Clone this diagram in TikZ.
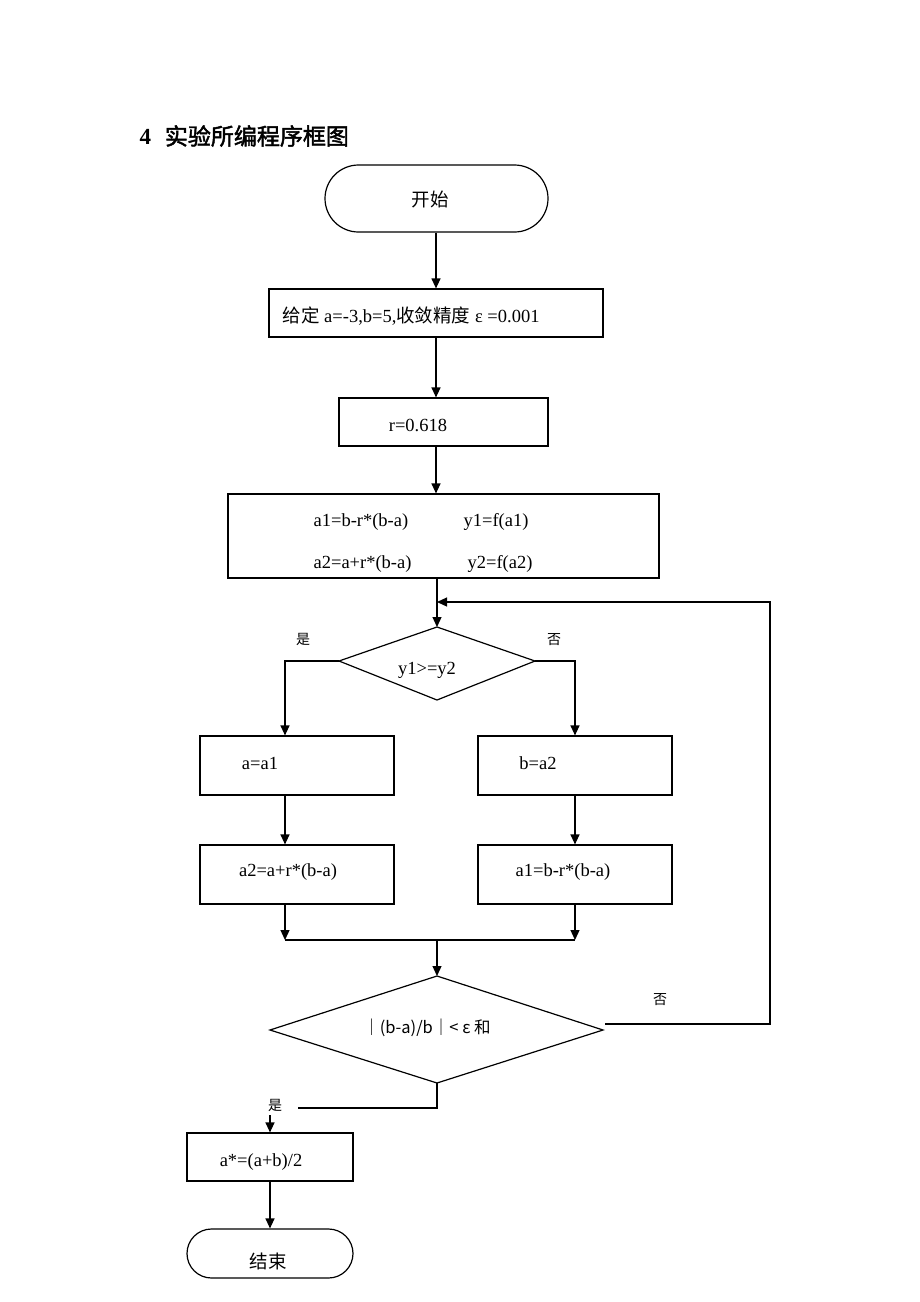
\documentclass[tikz,border=0pt]{standalone}
\usepackage{fontspec}
\setmainfont{Liberation Serif}
\newfontfamily\cjk[AutoFakeBold=2]{Noto Sans CJK SC}
\usetikzlibrary{arrows.meta,shapes.misc}
\begin{document}
\begin{tikzpicture}[x=1pt,y=-1pt,
  line width=1.2pt,
  arr/.style={-{Triangle[length=10pt,width=9pt]}},
  box/.style={draw,rectangle,inner sep=0pt},
  term/.style={draw,rounded rectangle,inner sep=0pt},
  txt/.style={inner sep=0pt,font=\fontsize{18.5}{20}\selectfont},
  cn/.style={inner sep=0pt,font=\cjk\fontsize{18.5}{20}\selectfont},
  sm/.style={inner sep=0pt,font=\cjk\fontsize{14}{16}\selectfont},
]
\useasboundingbox (0,0) rectangle (920,1302);
% title
\node[anchor=west,inner sep=0pt,font=\bfseries\fontsize{23}{25}\selectfont] (title) at (139,136) {4\hspace{0.6em}{\cjk\bfseries 实验所编程序框图}};

% start
\node[term,minimum width=223pt,minimum height=67pt] (start) at (436.5,198.5) {};
\node[cn] (startT) at (430,199) {开始};

% given
\node[box,minimum width=334pt,minimum height=48pt] (given) at (436,313) {};
\node[txt,anchor=west] (givenT) at (282,316) {{\cjk 给定} a=-3,b=5,{\cjk 收敛精度} ε =0.001};

% r
\node[box,minimum width=209pt,minimum height=48pt] (rbox) at (443.5,422) {};
\node[txt] (rT) at (418,425) {r=0.618};

% big box
\node[box,minimum width=431pt,minimum height=84pt] (big) at (443.5,536) {};
\node[txt,anchor=west] (b1) at (313,522) {a1=b-r*(b-a)};
\node[txt,anchor=west] (b2) at (463,522) {y1=f(a1)};
\node[txt,anchor=west] (b3) at (313,564) {a2=a+r*(b-a)};
\node[txt,anchor=west] (b4) at (467,564) {y2=f(a2)};

% diamond 1
\coordinate (d1t) at (437,627);
\coordinate (d1l) at (339,661);
\coordinate (d1r) at (535,661);
\coordinate (d1b) at (437,700);
\draw (d1t) -- (d1r) -- (d1b) -- (d1l) -- cycle;
\node[txt] (d1T) at (427,670) {y1>=y2};
\node[sm] (yes1) at (303,639) {是};
\node[sm] (no1) at (554,640) {否};

% boxes
\node[box,minimum width=194pt,minimum height=59pt] (A) at (297,765.5) {};
\node[txt] (AT) at (260,763) {a=a1};
\node[box,minimum width=194pt,minimum height=59pt] (B) at (575,765.5) {};
\node[txt] (BT) at (538,763) {b=a2};
\node[box,minimum width=194pt,minimum height=59pt] (C) at (297,874.5) {};
\node[txt] (CT) at (288,872) {a2=a+r*(b-a)};
\node[box,minimum width=194pt,minimum height=59pt] (D) at (575,874.5) {};
\node[txt] (DT) at (563,872) {a1=b-r*(b-a)};

% diamond 2
\coordinate (d2t) at (437,976);
\coordinate (d2l) at (270,1030);
\coordinate (d2r) at (603,1030);
\coordinate (d2b) at (437,1083);
\draw (d2t) -- (d2r) -- (d2b) -- (d2l) -- cycle;
\node[inner sep=0pt,font=\cjk\fontsize{16.5}{18}\selectfont] (d2T) at (427,1028) {｜(b-a)/b｜< ε 和};
\node[sm] (no2) at (660,1000) {否};
\node[sm] (yes2) at (275,1105) {是};

% final box and end
\node[box,minimum width=166pt,minimum height=48pt] (E) at (270,1157) {};
\node[txt] (ET) at (261,1162) {a*=(a+b)/2};
\node[term,minimum width=166pt,minimum height=49pt] (stop) at (270,1253.5) {};
\node[cn] (stopT) at (268,1261) {结束};

% connectors
\draw[arr] (start.south -| 436,0) -- (given.north -| 436,0);
\draw[arr] (given.south -| 436,0) -- (rbox.north -| 436,0);
\draw[arr] (rbox.south -| 436,0) -- (big.north -| 436,0);
\draw[arr] (big.south -| d1t) -- (d1t);
\coordinate (loopA) at (605,1024);
\coordinate (loopB) at (770,1024);
\coordinate (loopC) at (770,602);
\coordinate (loopD) at (437,602);
\draw[arr] (loopA) -- (loopB) -- (loopC) -- (loopD);
\draw[arr] (d1l) -- (285,661) -- (A.north -| 285,0);
\draw[arr] (d1r) -- (575,661) -- (B.north);
\draw[arr] (A.south -| 285,0) -- (C.north -| 285,0);
\draw[arr] (B.south) -- (D.north);
\coordinate (jl) at (285,940);
\coordinate (jr) at (575,940);
\coordinate (jm) at (437,940);
\draw[arr] (C.south -| jl) -- (jl);
\draw[arr] (D.south -| jr) -- (jr);
\draw (jl) -- (jr);
\draw[arr] (jm) -- (d2t);
\coordinate (bl) at (437,1108);
\coordinate (bm) at (298,1108);
\draw (d2b) -- (bl) -- (bm);
\coordinate (eTop) at (270,1115);
\draw[arr] (eTop) -- (E.north);
\draw[arr] (E.south) -- (stop.north);
\end{tikzpicture}
\end{document}
